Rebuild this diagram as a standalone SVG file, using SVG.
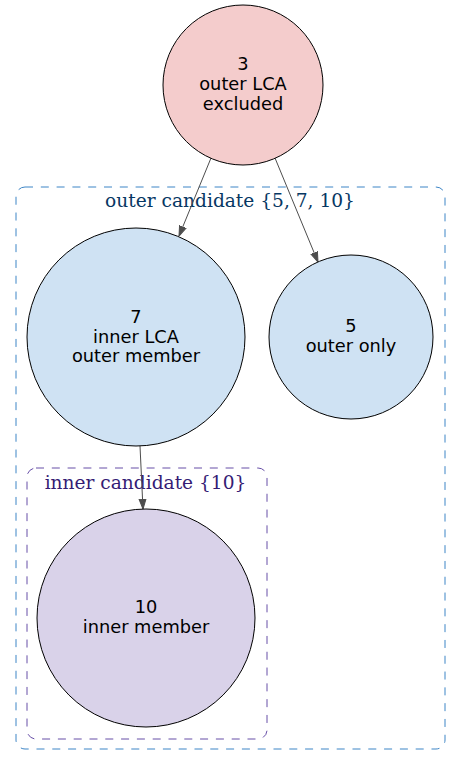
<svg xmlns="http://www.w3.org/2000/svg" width="461" height="766" viewBox="0 0 461 766">
<defs>
<style>
.node circle{stroke:#000;stroke-width:1}
.node text{font-family:"DejaVu Sans",sans-serif;font-size:17.8px;fill:#000;text-anchor:middle}
.cl text{font-family:"DejaVu Serif",serif;font-size:18.6px;text-anchor:middle}
.cl rect{fill:none;stroke-width:1;stroke-dasharray:8,7.8}
.edge{stroke:#4d4d4d;stroke-width:1;fill:none;marker-end:url(#ah)}
</style>
<marker id="ah" viewBox="0 0 10 10" refX="10" refY="5" markerWidth="10" markerHeight="10" markerUnits="userSpaceOnUse" orient="auto">
<path d="M0,1.5 L10,5 L0,8.5 Z" fill="#4d4d4d" stroke="#4d4d4d"/>
</marker>
</defs>
<rect width="461" height="766" fill="#fff"/>
<g id="cluster_outer" class="cl">
<rect x="16" y="187" width="429" height="562" rx="9" stroke="#3d85c6"/>
<text x="230" y="207" fill="#073763">outer candidate {5, 7, 10}</text>
</g>
<g id="cluster_inner" class="cl">
<rect x="27" y="468" width="240" height="271" rx="9" stroke="#674ea7"/>
<text x="145.5" y="489" fill="#351c75">inner candidate {10}</text>
</g>
<g id="edges">
<line class="edge" x1="211" y1="158" x2="179" y2="236"/>
<line class="edge" x1="275" y1="158" x2="318" y2="262"/>
<line class="edge" x1="140" y1="446" x2="143" y2="509"/>
</g>
<g id="n3" class="node">
<circle cx="243" cy="85" r="80" fill="#f4cccc"/>
<text x="243" y="70">3</text>
<text x="243" y="90">outer LCA</text>
<text x="243" y="110">excluded</text>
</g>
<g id="n7" class="node">
<circle cx="136" cy="337" r="109" fill="#cfe2f3"/>
<text x="136" y="323">7</text>
<text x="136" y="343">inner LCA</text>
<text x="136" y="362">outer member</text>
</g>
<g id="n5" class="node">
<circle cx="351" cy="337" r="82" fill="#cfe2f3"/>
<text x="351" y="332">5</text>
<text x="351" y="352">outer only</text>
</g>
<g id="n10" class="node">
<circle cx="146" cy="618" r="109" fill="#d9d2e9"/>
<text x="146" y="613">10</text>
<text x="146" y="633">inner member</text>
</g>
</svg>
